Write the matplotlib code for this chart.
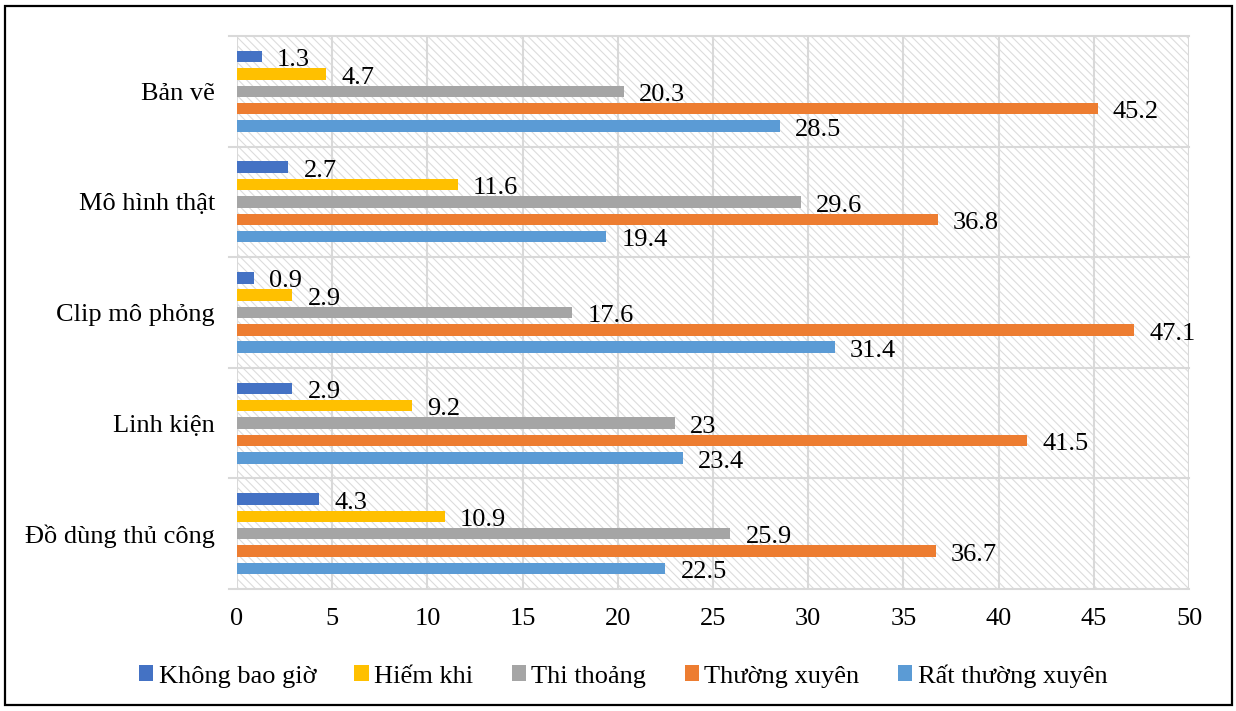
import matplotlib
matplotlib.use("Agg")
import matplotlib.pyplot as plt
from matplotlib.patches import Rectangle, Patch
import matplotlib.transforms as mtransforms
import numpy as np

categories = ["Bản vẽ", "Mô hình thật", "Clip mô phỏng", "Linh kiện", "Đồ dùng thủ công"]
series_names = ["Không bao giờ", "Hiếm khi", "Thi thoảng", "Thường xuyên", "Rất thường xuyên"]
khong_bao_gio = [1.3, 2.7, 0.9, 2.9, 4.3]
hiem_khi = [4.7, 11.6, 2.9, 9.2, 10.9]
thi_thoang = [20.3, 29.6, 17.6, 23, 25.9]
thuong_xuyen = [45.2, 36.8, 47.1, 41.5, 36.7]
rat_thuong_xuyen = [28.5, 19.4, 31.4, 23.4, 22.5]
x_ticks = [0, 5, 10, 15, 20, 25, 30, 35, 40, 45, 50]

colors = ["#4472C4", "#FFC000", "#A5A5A5", "#ED7D31", "#5B9BD5"]
series = [khong_bao_gio, hiem_khi, thi_thoang, thuong_xuyen, rat_thuong_xuyen]

plt.rcParams["font.family"] = ["Liberation Serif", "DejaVu Serif"]
plt.rcParams["hatch.color"] = "#dcdcdc"
plt.rcParams["hatch.linewidth"] = 0.8

W, H = 1236, 711
fig = plt.figure(figsize=(W / 100, H / 100), dpi=100)
ax = fig.add_axes([237 / W, 1 - 589 / H, (1189 - 237) / W, (589 - 36) / H])

# hatched plot-area background
bg = Rectangle((0, 0), 1, 1, transform=ax.transAxes, facecolor="white",
               edgecolor="#dcdcdc", hatch="\\\\\\\\", linewidth=0, zorder=0)
ax.add_patch(bg)

grid_col = "#d9d9d9"
for xv in x_ticks:
    ax.axvline(xv, color=grid_col, linewidth=1.5, zorder=1)

n = len(categories)
slot = 0.157
bar_h = 0.104
y_base = np.arange(n)

# category separators, extending a little left of the axis
trans = mtransforms.blended_transform_factory(ax.transAxes, ax.transData)
for b in np.arange(n + 1) - 0.5:
    ax.plot([-0.008, 1.0], [b, b], color=grid_col, linewidth=1.5,
            transform=trans, clip_on=False, zorder=1)

fs = 19
for k, (vals, col) in enumerate(zip(series, colors)):
    ypos = y_base + (k - 2) * slot
    ax.barh(ypos, vals, height=bar_h, color=col, zorder=3)
    for y, v in zip(ypos, vals):
        ax.annotate(f"{v:g}", xy=(v, y), xytext=(11, -7), textcoords="offset points",
                    va="baseline", ha="left", fontsize=fs, color="black", zorder=4)

ax.set_xlim(0, 50)
ax.set_ylim(n - 0.5, -0.5)
ax.set_xticks(x_ticks)
ax.set_xticklabels([str(t) for t in x_ticks])
ax.set_yticks(y_base)
ax.set_yticklabels(categories)
ax.tick_params(axis="both", length=0, labelsize=fs)
ax.tick_params(axis="x", pad=14)
ax.tick_params(axis="y", pad=16)
for s in ax.spines.values():
    s.set_visible(False)
ax.set_facecolor("white")

handles = [Patch(facecolor=c, edgecolor="none") for c in colors]
fig.legend(handles, series_names, loc="center", bbox_to_anchor=(0.504, 1 - 676 / H),
           ncol=5, frameon=False, fontsize=fs, handlelength=0.55, handleheight=0.55,
           handletextpad=0.2, columnspacing=1.45)

# outer frame
fig.add_artist(Rectangle((5 / W, 1 - 705 / H), (1232 - 5) / W, (705 - 6) / H,
                         transform=fig.transFigure, fill=False, edgecolor="black",
                         linewidth=1.6))

fig.savefig("out.png", dpi=100)
